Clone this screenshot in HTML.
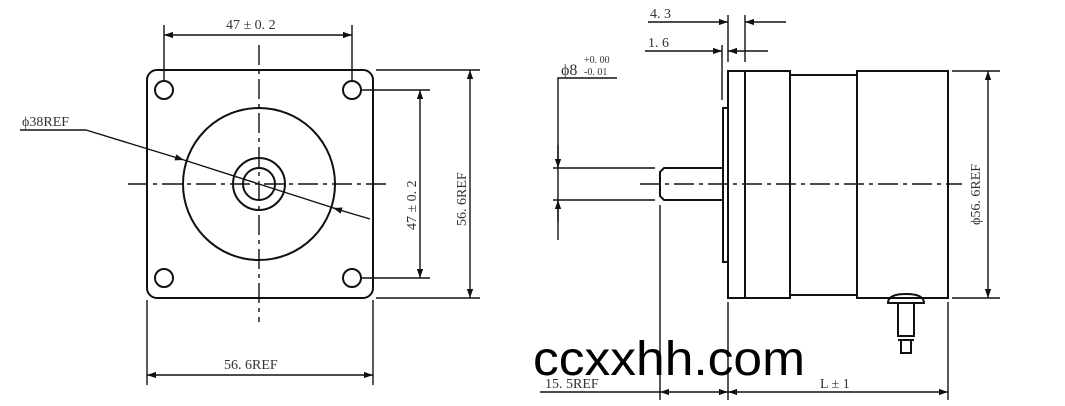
<!DOCTYPE html>
<html><head><style>
body{margin:0;background:#fff;}
svg{display:block;}
text{font-family:"Liberation Serif",serif;fill:#333;}
</style></head><body>
<svg width="1065" height="406" viewBox="0 0 1065 406" xmlns="http://www.w3.org/2000/svg">
<defs>
<marker id="a" viewBox="0 0 10 10" refX="10" refY="5" markerWidth="15" markerHeight="9" orient="auto-start-reverse" markerUnits="userSpaceOnUse"><path d="M0,1.5 L10,5 L0,8.5 Z" fill="#111"/></marker>
</defs>
<g stroke="#111" stroke-width="2" fill="none">
<rect x="147" y="70" width="226" height="228" rx="10"/>
<circle cx="164" cy="90" r="9"/><circle cx="352" cy="90" r="9"/>
<circle cx="164" cy="278" r="9"/><circle cx="352" cy="278" r="9"/>
<circle cx="259" cy="184" r="76"/>
<circle cx="259" cy="184" r="26"/>
<circle cx="259" cy="184" r="16"/>
</g>
<g stroke="#111" stroke-width="1.4" fill="none">
<line x1="128" y1="184" x2="388" y2="184" stroke-dasharray="20,5,4,5"/>
<line x1="259" y1="45" x2="259" y2="322" stroke-dasharray="20,5,4,5"/>
<line x1="164" y1="25" x2="164" y2="80"/><line x1="352" y1="25" x2="352" y2="80"/>
<line x1="164" y1="35" x2="352" y2="35" marker-start="url(#a)" marker-end="url(#a)"/>
<line x1="362" y1="90" x2="430" y2="90"/><line x1="362" y1="278" x2="430" y2="278"/>
<line x1="420" y1="90" x2="420" y2="278" marker-start="url(#a)" marker-end="url(#a)"/>
<line x1="376" y1="70" x2="480" y2="70"/><line x1="376" y1="298" x2="480" y2="298"/>
<line x1="470" y1="70" x2="470" y2="298" marker-start="url(#a)" marker-end="url(#a)"/>
<line x1="147" y1="300" x2="147" y2="385"/><line x1="373" y1="300" x2="373" y2="385"/>
<line x1="147" y1="375" x2="373" y2="375" marker-start="url(#a)" marker-end="url(#a)"/>
<polyline points="20,130 86,130"/>
<line x1="86" y1="130" x2="184" y2="160" marker-end="url(#a)"/>
<line x1="370" y1="219" x2="333" y2="208" marker-end="url(#a)"/>
<line x1="184" y1="160" x2="340" y2="210"/>
</g>
<g font-size="14">
<text x="226" y="29">47 ± 0. 2</text>
<text x="22" y="126">ϕ38REF</text>
<text x="224" y="369">56. 6REF</text>
<text transform="translate(416,230) rotate(-90)">47 ± 0. 2</text>
<text transform="translate(466,226) rotate(-90)">56. 6REF</text>
</g>
<g stroke="#111" stroke-width="2" fill="none">
<path d="M664,168 L723,168 L723,200 L664,200 L660,196 L660,172 Z"/>
<rect x="723" y="108" width="5" height="154"/>
<rect x="728" y="71" width="62" height="227"/>
<line x1="745" y1="71" x2="745" y2="298"/>
<rect x="790" y="75" width="67" height="220"/>
<rect x="857" y="71" width="91" height="227"/>
<path d="M888,303 Q888,294 906,294 Q924,294 924,303 Z"/>
<rect x="898" y="303" width="16" height="33"/>
<rect x="901" y="340" width="10" height="13"/>
<line x1="898" y1="340" x2="914" y2="340"/>
</g>
<g stroke="#111" stroke-width="1.4" fill="none">
<line x1="640" y1="184" x2="962" y2="184" stroke-dasharray="20,5,4,5"/>
<polyline points="617,78 558,78 558,240"/>
<line x1="558" y1="145" x2="558" y2="168" marker-end="url(#a)"/>
<line x1="558" y1="222" x2="558" y2="200" marker-end="url(#a)"/>
<line x1="553" y1="168" x2="655" y2="168"/><line x1="553" y1="200" x2="655" y2="200"/>
<line x1="728" y1="15" x2="728" y2="62"/><line x1="745" y1="15" x2="745" y2="62"/>
<line x1="648" y1="22" x2="728" y2="22" marker-end="url(#a)"/>
<line x1="786" y1="22" x2="745" y2="22" marker-end="url(#a)"/>
<line x1="722" y1="45" x2="722" y2="100"/>
<line x1="645" y1="51" x2="722" y2="51" marker-end="url(#a)"/>
<line x1="768" y1="51" x2="728" y2="51" marker-end="url(#a)"/>
<line x1="952" y1="71" x2="1000" y2="71"/><line x1="952" y1="298" x2="1000" y2="298"/>
<line x1="988" y1="71" x2="988" y2="298" marker-start="url(#a)" marker-end="url(#a)"/>
<line x1="660" y1="205" x2="660" y2="400"/>
<line x1="728" y1="302" x2="728" y2="400"/>
<line x1="948" y1="302" x2="948" y2="400"/>
<line x1="540" y1="392" x2="660" y2="392"/>
<line x1="660" y1="392" x2="728" y2="392" marker-start="url(#a)" marker-end="url(#a)"/>
<line x1="728" y1="392" x2="948" y2="392" marker-start="url(#a)" marker-end="url(#a)"/>
</g>
<g font-size="14">
<text x="650" y="18">4. 3</text>
<text x="648" y="47">1. 6</text>
<text x="561" y="75" font-size="16">ϕ8</text>
<text x="584" y="63" font-size="10">+0. 00</text>
<text x="584" y="75" font-size="10">-0. 01</text>
<text transform="translate(980,225) rotate(-90)">ϕ56. 6REF</text>
<text x="545" y="388">15. 5REF</text>
<text x="820" y="388">L ± 1</text>
</g>
<text x="533" y="375" font-size="48" textLength="272" lengthAdjust="spacingAndGlyphs" style="font-family:'Liberation Sans',sans-serif;fill:#000">ccxxhh.com</text>
</svg>
</body></html>
